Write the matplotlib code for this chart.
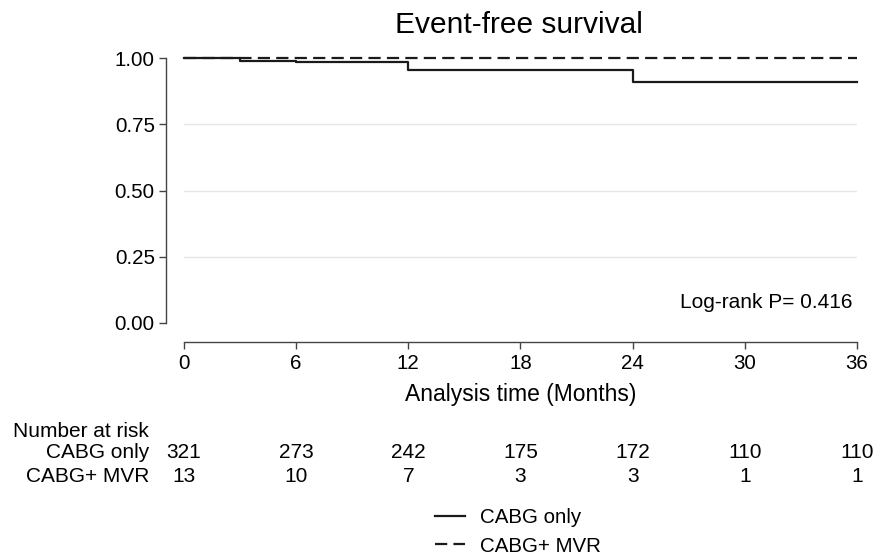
import matplotlib
matplotlib.use("Agg")
import matplotlib.pyplot as plt
import matplotlib.transforms as mtransforms

plt.rcParams['font.family'] = ['Liberation Sans', 'DejaVu Sans']

# Kaplan-Meier step data (months, survival)
cabg_t = [0, 3, 6, 12, 24, 36]
cabg_s = [1.0, 0.990, 0.984, 0.953, 0.908, 0.908]
mvr_t = [0, 36]
mvr_s = [1.0, 1.0]

risk_times = [0, 6, 12, 18, 24, 30, 36]
risk_cabg = [321, 273, 242, 175, 172, 110, 110]
risk_mvr = [13, 10, 7, 3, 3, 1, 1]
group_names = ["CABG only", "CABG+ MVR"]

W, H = 883, 560
fig = plt.figure(figsize=(W / 100, H / 100), dpi=100)
ax = fig.add_axes([184 / W, 1 - 323 / H, (857 - 184) / W, (323 - 58) / H])

line_c = '#1a1a1a'
l1, = ax.step(cabg_t, cabg_s, where='post', color=line_c, lw=1.6, clip_on=False, zorder=3)
l2, = ax.step(mvr_t, mvr_s, where='post', color=line_c, lw=1.6, ls=(0, (5.5, 2.8)), clip_on=False, zorder=4)

ax.set_xlim(0, 36)
ax.set_ylim(0, 1.0)
ax.set_xticks(risk_times)
ax.set_yticks([0, 0.25, 0.5, 0.75, 1.0])
ax.set_yticklabels(['0.00', '0.25', '0.50', '0.75', '1.00'])

for y in [0.25, 0.5, 0.75]:
    ax.axhline(y, color='#e6e6e6', lw=1.0, zorder=1)

for s in ['top', 'right']:
    ax.spines[s].set_visible(False)
ax.spines['left'].set_position(('outward', 13))
ax.spines['bottom'].set_position(('outward', 14))
ax.spines['left'].set_bounds(0, 1)
ax.spines['bottom'].set_bounds(0, 36)
for s in ['left', 'bottom']:
    ax.spines[s].set_color('#444444')
    ax.spines[s].set_linewidth(1.0)
ax.tick_params(axis='both', labelsize=14.8, color='#444444', length=5, width=1.0, pad=3)

ax.set_xlabel("Analysis time (Months)", fontsize=16.5, va='baseline')
ax.xaxis.set_label_coords(0.5, (323 - 401) / (323 - 58))

fig.text(519 / W, 1 - 33 / H, "Event-free survival", ha='center', va='baseline', fontsize=21.5)

fig.text(853 / W, 1 - 308 / H, "Log-rank P= 0.416", ha='right', va='baseline', fontsize=15)

# number at risk table
trans = mtransforms.blended_transform_factory(ax.transData, fig.transFigure)
fig.text(13 / W, 1 - 437 / H, "Number at risk", ha='left', va='baseline', fontsize=15)
for row, (name, vals) in enumerate(zip(group_names, [risk_cabg, risk_mvr])):
    yy = 1 - (458 + 24 * row) / H
    fig.text(149 / W, yy, name, ha='right', va='baseline', fontsize=15)
    for t, v in zip(risk_times, vals):
        ax.text(t, yy, str(v), transform=trans, ha='center', va='baseline', fontsize=15, clip_on=False)

fig.legend([l1, l2], group_names, loc='center', bbox_to_anchor=(518 / W, 1 - 532 / H),
           frameon=False, fontsize=14.8, handlelength=1.45, handletextpad=0.7, labelspacing=0.45)

fig.savefig("out.png", dpi=100)
